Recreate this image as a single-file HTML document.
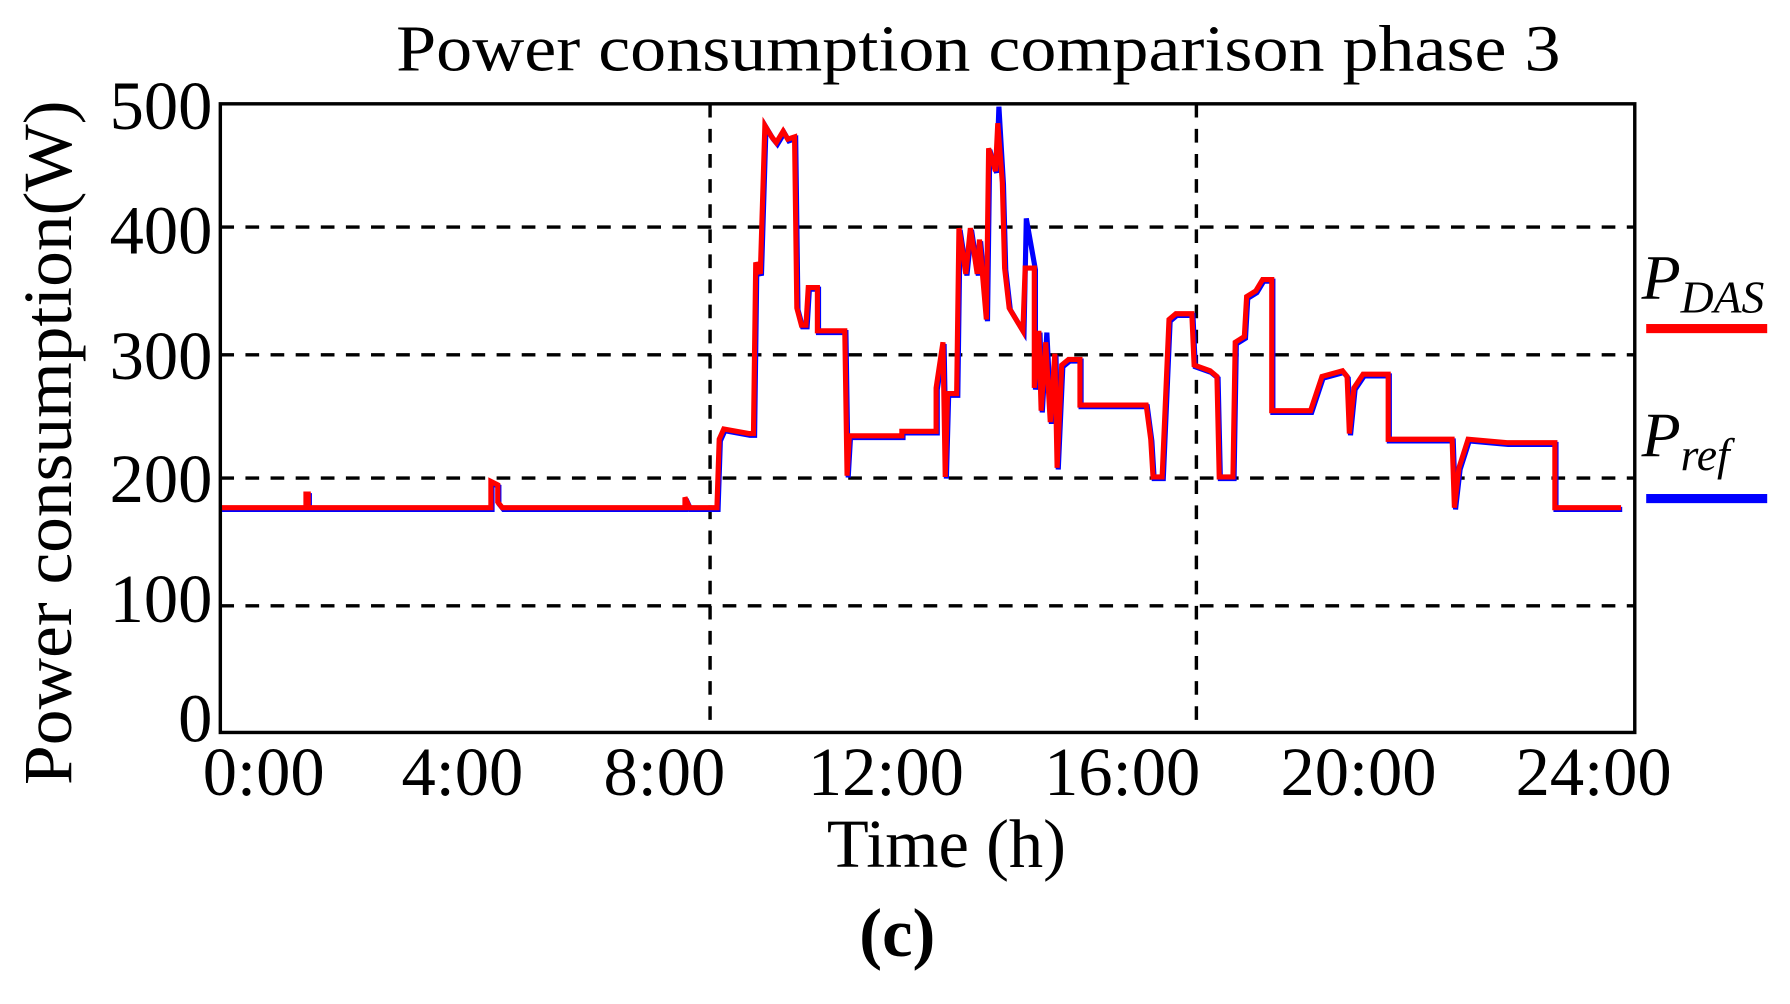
<!DOCTYPE html>
<html><head><meta charset="utf-8"><style>
html,body{margin:0;padding:0;background:#fff;width:1790px;height:1004px;overflow:hidden}
svg{display:block}
text{font-family:"Liberation Serif",serif;fill:#000}
</style></head><body>
<svg width="1790" height="1004" viewBox="0 0 1790 1004">
<g transform="matrix(1.1416 0 0 1.1409 0 0)">
<text x="347" y="62" font-size="58" textLength="1020" lengthAdjust="spacingAndGlyphs">Power consumption comparison phase 3</text>
<g stroke="#000" stroke-width="3" stroke-dasharray="12,10" fill="none">
<line x1="193" y1="531" x2="1432" y2="531"/>
<line x1="193" y1="419" x2="1432" y2="419"/>
<line x1="193" y1="311" x2="1432" y2="311"/>
<line x1="193" y1="199" x2="1432" y2="199"/>
<line x1="622" y1="91" x2="622" y2="642"/>
<line x1="1048" y1="91" x2="1048" y2="642"/>
</g>
<polyline fill="none" stroke="#0000ff" stroke-width="4.5" transform="translate(1,1.5)" points="193,445 268,445 268,433 270,433 270,445 430,445 430,422 436,425 436,440 440,445 600,445 600,436 604,445 628,445 630,385 634,376 656,380 660,380 662,230 666,240 670,110 676,120 680,125 686,115 690,122 696,120 698,270 702,285 706,285 708,252 716,252 716,290 740,290 742,417 744,382 790,382 790,378 820,378 820,340 826,300 828,418 830,345 838,345 840,200 846,240 850,200 856,240 858,210 864,280 866,130 872,150 874,92 878,160 880,235 884,270 896,290 898,190 906,235 906,340 910,290 912,360 916,290 920,370 924,310 926,410 930,320 936,315 946,315 946,355 1004,355 1008,385 1010,418 1018,418 1024,280 1030,275 1044,275 1046,320 1060,325 1066,330 1068,418 1080,418 1082,300 1090,295 1092,260 1100,255 1106,245 1114,245 1114,360 1148,360 1158,330 1176,325 1180,330 1182,380 1186,340 1194,328 1216,328 1216,385 1272,385 1274,445 1278,410 1286,385 1320,388 1362,388 1362,445 1420,445"/>
<polyline fill="none" stroke="#ff0000" stroke-width="4.5" points="193,445 268,445 268,433 270,433 270,445 430,445 430,422 436,425 436,440 440,445 600,445 600,436 604,445 628,445 630,385 634,376 656,380 660,380 662,230 666,240 670,110 676,120 680,125 686,115 690,122 696,120 698,270 702,285 706,285 708,252 716,252 716,290 740,290 742,417 744,382 790,382 790,378 820,378 820,340 826,300 828,418 830,345 838,345 840,200 846,240 850,200 856,240 858,210 864,280 866,130 872,150 874,108 878,160 880,235 884,270 896,290 898,235 906,235 906,340 910,290 912,360 916,300 920,370 924,310 926,410 930,320 936,315 946,315 946,355 1004,355 1008,385 1010,418 1018,418 1024,280 1030,275 1044,275 1046,320 1060,325 1066,330 1068,418 1080,418 1082,300 1090,295 1092,260 1100,255 1106,245 1114,245 1114,360 1148,360 1158,330 1176,325 1180,330 1182,380 1186,340 1194,328 1216,328 1216,385 1272,385 1274,445 1278,410 1286,385 1320,388 1362,388 1362,445 1420,445"/>
<rect x="193" y="91" width="1239" height="551" fill="none" stroke="#000" stroke-width="3"/>
<g font-size="60" text-anchor="end">
<text x="186" y="113">500</text><text x="186" y="222">400</text><text x="186" y="332">300</text>
<text x="186" y="440">200</text><text x="186" y="545">100</text><text x="186" y="650">0</text>
</g>
<g font-size="60" text-anchor="middle">
<text x="231" y="697">0:00</text><text x="405" y="697">4:00</text><text x="582" y="697">8:00</text>
<text x="776" y="697">12:00</text><text x="983" y="697">16:00</text><text x="1190" y="697">20:00</text><text x="1396" y="697">24:00</text>
<text x="829" y="760">Time (h)</text>
<text x="786" y="838" font-weight="bold">(c)</text>
</g>
<text transform="translate(62,688) rotate(-90)" font-size="60" textLength="600" lengthAdjust="spacingAndGlyphs">Power consumption(W)</text>
<text x="1438" y="262" font-size="56" font-style="italic">P<tspan font-size="40" dy="12">DAS</tspan></text>
<rect x="1442" y="284" width="106" height="8" fill="#ff0000"/>
<text x="1438" y="400" font-size="56" font-style="italic">P<tspan font-size="40" dy="12">ref</tspan></text>
<rect x="1442" y="433" width="106" height="8" fill="#0000ff"/>
</g>
</svg>
</body></html>
